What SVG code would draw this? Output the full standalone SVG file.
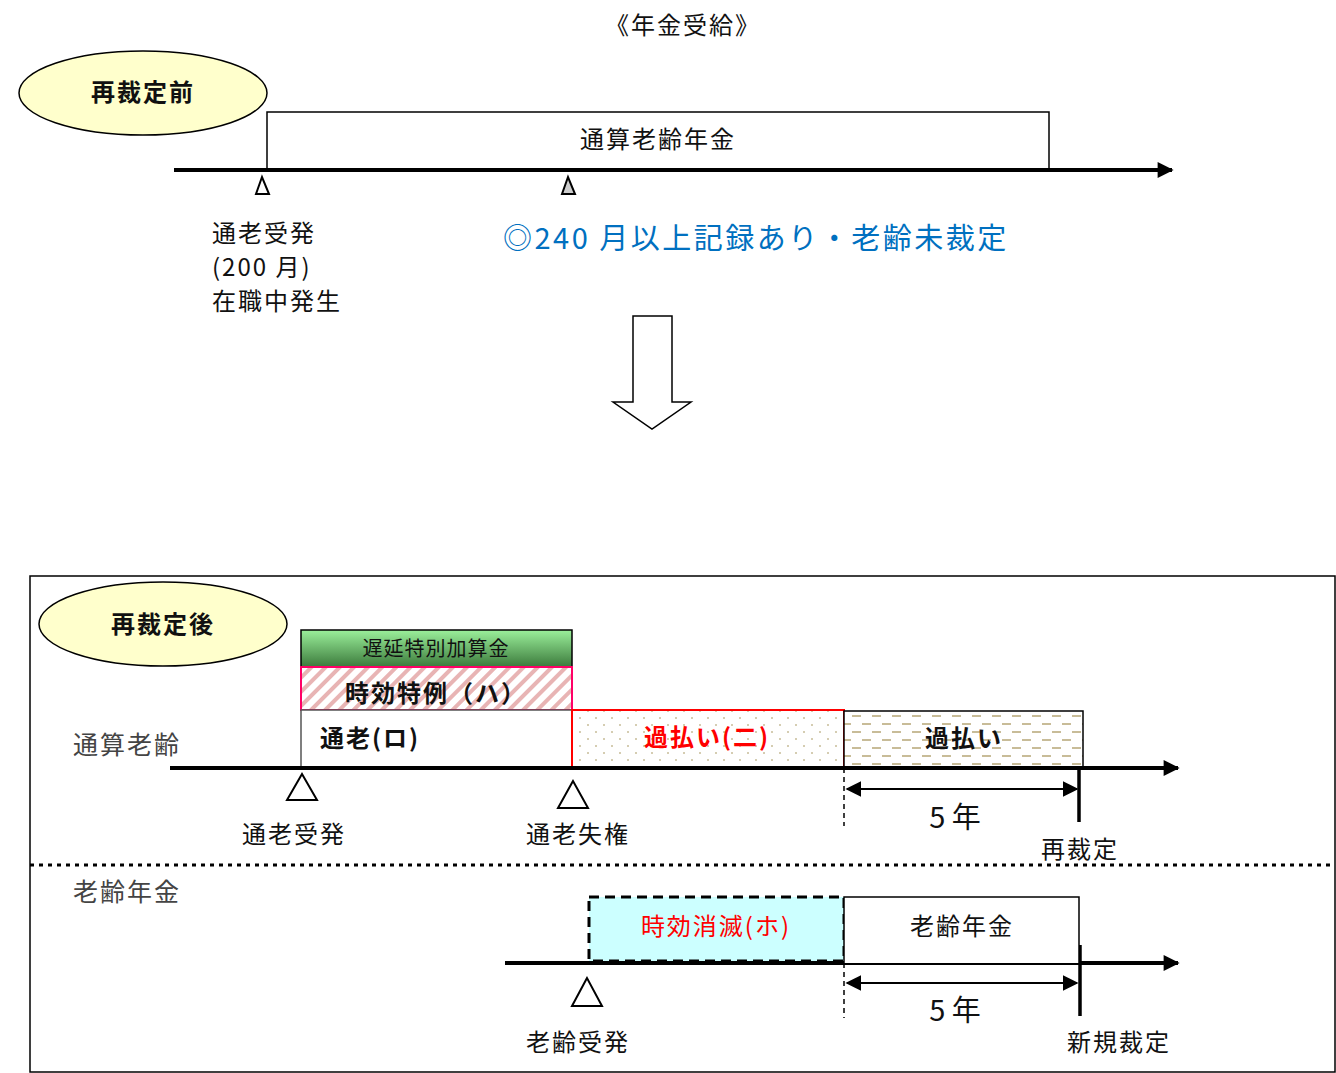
<svg xmlns="http://www.w3.org/2000/svg" width="1336" height="1073" viewBox="0 0 1336 1073">
<style>
text{font-family:"Noto Sans CJK JP","Noto Sans",sans-serif;fill:#111;}
.t22{font-size:24px;letter-spacing:2px;}
.t20{font-size:20px;letter-spacing:1px;}
.b{font-weight:bold;}
.c{text-anchor:middle;}
.axis{stroke:#000;stroke-width:4;fill:none;}
.thin{stroke:#000;stroke-width:1.5;fill:#fff;}
.tri{stroke:#000;stroke-width:2;fill:#fff;}
.ell{fill:#FFFFCC;stroke:#000;stroke-width:1.5;}
.lbl{font-size:25px;letter-spacing:2px;fill:#444;}
.big{font-size:29px;}
</style>
<defs>
<marker id="ah" viewBox="0 0 10 10" refX="9" refY="5" markerWidth="5" markerHeight="4" orient="auto" markerUnits="strokeWidth"><path d="M0,0 L10,5 L0,10 z" fill="#000"/></marker>
<marker id="dh" viewBox="0 0 10 10" refX="9" refY="5" markerWidth="8" markerHeight="8" orient="auto-start-reverse" markerUnits="strokeWidth"><path d="M0,0 L10,5 L0,10 z" fill="#000"/></marker>
<linearGradient id="grn" x1="0" y1="0" x2="0" y2="1"><stop offset="0" stop-color="#9BF09B"/><stop offset="1" stop-color="#3C7A3C"/></linearGradient>
<pattern id="hatch" width="10" height="10" patternUnits="userSpaceOnUse" patternTransform="rotate(45)"><rect width="10" height="10" fill="#fff"/><rect width="4" height="10" fill="#E8B4B4"/></pattern>
<pattern id="dots" width="16" height="14" patternUnits="userSpaceOnUse"><rect width="16" height="14" fill="#fff"/><circle cx="4" cy="4" r="1" fill="#C8BC98"/><circle cx="12" cy="11" r="1" fill="#C8BC98"/></pattern>
<pattern id="dash" width="20" height="16" patternUnits="userSpaceOnUse"><rect width="20" height="16" fill="#fff"/><rect x="2" y="3" width="9" height="2" fill="#C8BC98"/><rect x="12" y="11" width="9" height="2" fill="#C8BC98"/><rect x="-8" y="11" width="9" height="2" fill="#C8BC98"/></pattern>
</defs>

<text x="683" y="34" class="t22 c">《年金受給》</text>

<!-- before -->
<g id="before-label"><ellipse class="ell" cx="143" cy="93" rx="124" ry="42"/><text x="143" y="101" class="t22 c b">再裁定前</text></g>
<g id="tsusan-before"><rect x="267" y="112" width="782" height="58" class="thin"/><text x="658" y="148" class="t22 c">通算老齢年金</text></g>
<g id="connectors-before">
<line x1="174" y1="170" x2="1172" y2="170" class="axis" marker-end="url(#ah)"/>
<polygon points="262,177 256,194 269,194" class="tri"/>
<polygon points="568,177 562,194 575,194" class="tri" style="fill:#ccc"/>
</g>
<text x="212" y="242" class="t22">通老受発</text>
<text x="212" y="276" class="t22">(200 月)</text>
<text x="212" y="310" class="t22">在職中発生</text>
<text x="503" y="249" class="big" style="fill:#0070C0;letter-spacing:2.5px">◎240 月以上記録あり・老齢未裁定</text>

<g id="down-arrow"><polygon points="633,316 672,316 672,402 691,402 652,429 613,402 633,402" fill="#fff" stroke="#000" stroke-width="1.5"/></g>

<!-- after -->
<rect x="30" y="576" width="1305" height="496" fill="none" stroke="#000" stroke-width="1.5"/>
<g id="after-label"><ellipse class="ell" cx="163" cy="624" rx="124" ry="42"/><text x="163" y="633" class="t22 c b">再裁定後</text></g>
<text x="73" y="754" class="lbl">通算老齢</text>

<g id="delay"><rect x="301" y="630" width="271" height="37" fill="url(#grn)" stroke="#000" stroke-width="1.5"/><text x="436" y="656" class="t20 c">遅延特別加算金</text></g>
<g id="jiko-tokurei"><rect x="301" y="667" width="271" height="43" fill="url(#hatch)" stroke="#FF0066" stroke-width="2"/><text x="345" y="702" class="t22 b">時効特例（ハ）</text></g>
<g id="tsuro"><rect x="301" y="710" width="271" height="58" fill="#fff" stroke="#555" stroke-width="1.5"/><text x="320" y="747" class="t22 b">通老(ロ)</text></g>
<g id="kabarai-ni"><rect x="572" y="710" width="272" height="58" fill="url(#dots)" stroke="#FF0000" stroke-width="2"/><text x="707" y="746" class="t22 c b" style="fill:#FF0000">過払い(二)</text></g>
<g id="kabarai"><rect x="844" y="711" width="239" height="57" fill="url(#dash)" stroke="#000" stroke-width="1.5"/><text x="964" y="747" class="t22 c b">過払い</text></g>

<g id="connectors">
<line x1="170" y1="768" x2="1178" y2="768" class="axis" marker-end="url(#ah)"/>
<polygon points="302,774 287,800 317,800" class="tri"/>
<polygon points="573,781 558,808 588,808" class="tri"/>
<line x1="844" y1="768" x2="844" y2="826" stroke="#000" stroke-width="1.5" stroke-dasharray="5,4"/>
<line x1="847" y1="789" x2="1077" y2="789" stroke="#000" stroke-width="2" marker-start="url(#dh)" marker-end="url(#dh)"/>
<line x1="1079" y1="768" x2="1079" y2="822" stroke="#000" stroke-width="3.5"/>
<line x1="30" y1="865" x2="1335" y2="865" stroke="#000" stroke-width="3" stroke-dasharray="4,5"/>
<line x1="505" y1="963" x2="1178" y2="963" class="axis" marker-end="url(#ah)"/>
<polygon points="587,978 572,1006 602,1006" class="tri"/>
<line x1="844" y1="963" x2="844" y2="1018" stroke="#000" stroke-width="1.5" stroke-dasharray="5,4"/>
<line x1="847" y1="983" x2="1077" y2="983" stroke="#000" stroke-width="2" marker-start="url(#dh)" marker-end="url(#dh)"/>
<line x1="1080" y1="945" x2="1080" y2="1016" stroke="#000" stroke-width="3.5"/>
</g>
<text x="294" y="843" class="t22 c">通老受発</text>
<text x="578" y="843" class="t22 c">通老失権</text>
<text x="955" y="828" class="c big">5 年</text>
<text x="1080" y="858" class="t22 c">再裁定</text>

<text x="73" y="901" class="lbl">老齢年金</text>
<g id="jiko-shometsu"><rect x="589" y="897" width="255" height="64" fill="#CCFFFF" stroke="#000" stroke-width="3" stroke-dasharray="10,6"/><text x="716" y="935" class="t22 c" style="fill:#FF0000">時効消滅(ホ)</text></g>
<g id="rorei"><path d="M844,963 V897 H1079 V963" fill="#fff" stroke="#000" stroke-width="1.5"/><text x="962" y="935" class="t22 c">老齢年金</text></g>
<text x="578" y="1051" class="t22 c">老齢受発</text>
<text x="955" y="1021" class="c big">5 年</text>
<text x="1119" y="1051" class="t22 c">新規裁定</text>
</svg>
